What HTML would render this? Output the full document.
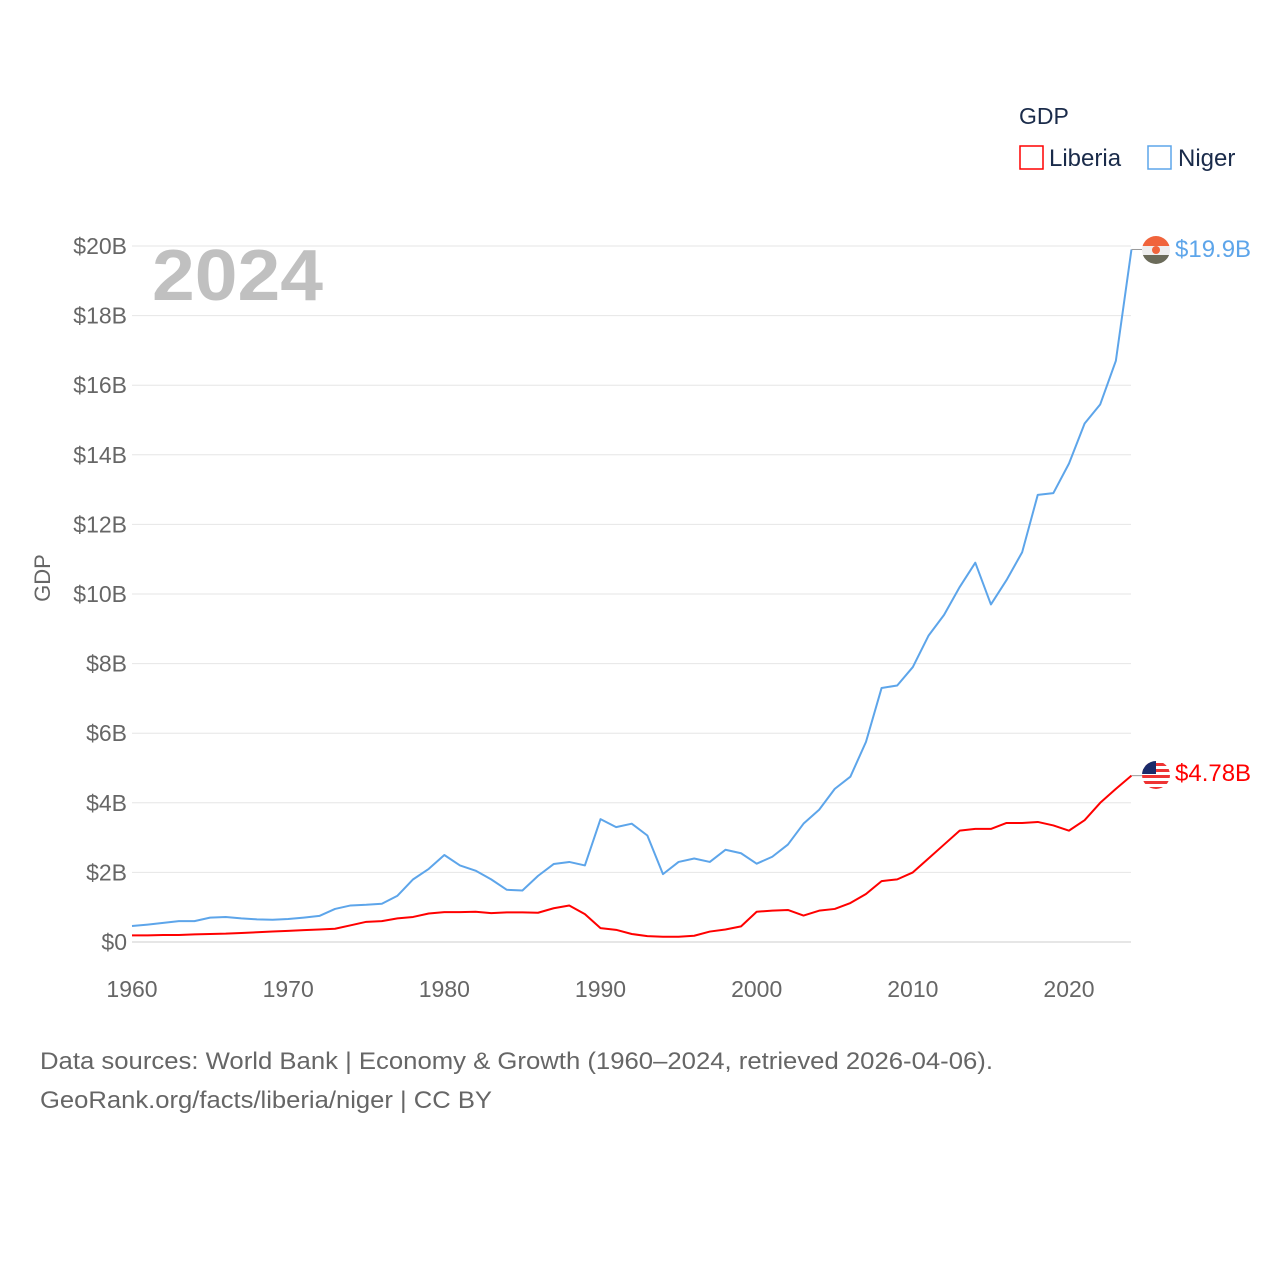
<!DOCTYPE html>
<html><head><meta charset="utf-8"><style>
body{margin:0;background:#fff;font-family:"Liberation Sans",sans-serif;}
svg text{font-family:"Liberation Sans",sans-serif;}
</style></head><body>
<svg id="chart" width="1280" height="1280" viewBox="0 0 1280 1280" xmlns="http://www.w3.org/2000/svg">
<rect width="1280" height="1280" fill="#fff"/>
<g id="grid"></g>
<g id="yt"></g>
<g id="xt"></g>
<text x="152" y="300" font-size="72" font-weight="bold" fill="#c0c0c0" textLength="171" lengthAdjust="spacingAndGlyphs">2024</text>
<text transform="translate(50,578) rotate(-90)" text-anchor="middle" font-size="22" fill="#666">GDP</text>
<g id="series"></g>
<text x="1019" y="124" font-size="23" fill="#1a2b4a">GDP</text>
<g><rect x="1020" y="146" width="23" height="23" fill="none" stroke="#f00" stroke-width="1.5"/><text x="1049" y="166" font-size="24" fill="#1a2b4a">Liberia</text></g>
<g><rect x="1148" y="146" width="23" height="23" fill="none" stroke="#5da5ea" stroke-width="1.5"/><text x="1178" y="166" font-size="24" fill="#1a2b4a">Niger</text></g>
<g><clipPath id="cn"><circle cx="1156" cy="250" r="14"/></clipPath><g clip-path="url(#cn)"><rect x="1142" y="236" width="28" height="10" fill="#f0643c"/><rect x="1142" y="246" width="28" height="9" fill="#eee"/><rect x="1142" y="255" width="28" height="10" fill="#6b6b5a"/><circle cx="1156" cy="250" r="4" fill="#f0643c"/></g></g>
<text x="1175" y="257" font-size="24" fill="#5da5ea">$19.9B</text>
<g><clipPath id="cl"><circle cx="1156" cy="775" r="14"/></clipPath><g clip-path="url(#cl)"><rect x="1142" y="761" width="28" height="28" fill="#fff"/><rect x="1142" y="763" width="28" height="3" fill="#e33"/><rect x="1142" y="769" width="28" height="3" fill="#e33"/><rect x="1142" y="775" width="28" height="3" fill="#e33"/><rect x="1142" y="781" width="28" height="3" fill="#e33"/><rect x="1142" y="787" width="28" height="3" fill="#e33"/><rect x="1142" y="761" width="14" height="13" fill="#1a2b6a"/></g></g>
<text x="1175" y="781" font-size="24" fill="#f00">$4.78B</text>
<text x="40" y="1069" font-size="24" fill="#666" textLength="953" lengthAdjust="spacingAndGlyphs">Data sources: World Bank | Economy &amp; Growth (1960–2024, retrieved 2026-04-06).</text>
<text x="40" y="1108" font-size="24" fill="#666" textLength="452" lengthAdjust="spacingAndGlyphs">GeoRank.org/facts/liberia/niger | CC BY</text>
</svg>
<script>
const years=[];for(let y=1960;y<=2024;y++)years.push(y);
const niger=[0.46,0.5,0.55,0.6,0.6,0.7,0.72,0.68,0.65,0.64,0.66,0.7,0.75,0.95,1.05,1.07,1.1,1.33,1.8,2.1,2.5,2.2,2.05,1.8,1.5,1.48,1.9,2.24,2.3,2.2,3.53,3.3,3.4,3.06,1.95,2.3,2.4,2.3,2.65,2.55,2.25,2.45,2.8,3.4,3.8,4.4,4.75,5.75,7.3,7.37,7.9,8.8,9.4,10.2,10.9,9.7,10.4,11.2,12.85,12.9,13.75,14.9,15.45,16.7,19.9];
const liberia=[0.19,0.19,0.2,0.2,0.22,0.23,0.24,0.26,0.28,0.3,0.32,0.34,0.36,0.38,0.48,0.58,0.6,0.68,0.72,0.82,0.86,0.86,0.87,0.83,0.85,0.85,0.84,0.97,1.05,0.8,0.4,0.35,0.23,0.17,0.15,0.15,0.18,0.3,0.36,0.45,0.87,0.9,0.92,0.76,0.9,0.95,1.12,1.38,1.75,1.8,2.0,2.4,2.8,3.2,3.25,3.25,3.42,3.42,3.45,3.35,3.2,3.5,4.0,4.4,4.78];
const yTicks=[0,2,4,6,8,10,12,14,16,18,20];
const yLabels=["$0","$2B","$4B","$6B","$8B","$10B","$12B","$14B","$16B","$18B","$20B"];
const xTicks=[1960,1970,1980,1990,2000,2010,2020];
const NS="http://www.w3.org/2000/svg";
const X=y=>132+(y-1960)*(1069-132)/60;
const Y=v=>942-v*(942-246)/20;
function mk(t,a,p){const e=document.createElementNS(NS,t);for(const k in a)e.setAttribute(k,a[k]);p.appendChild(e);return e;}
const grid=document.getElementById('grid'),yt=document.getElementById('yt'),xt=document.getElementById('xt'),ser=document.getElementById('series');
yTicks.forEach((v,i)=>{
 const l=mk('line',{x1:132,x2:1131,y1:Y(v),y2:Y(v),stroke:v===0?'#ccc':'#e6e6e6','stroke-width':1},grid);
 
 
 const t=mk('text',{x:127,y:Y(v)+8,'text-anchor':'end','font-size':23,fill:'#666'},yt);
 t.textContent=yLabels[i];
 
 
});
xTicks.forEach(v=>{
 const t=mk('text',{x:X(v),y:997,'text-anchor':'middle','font-size':23,fill:'#666'},xt);
 t.textContent=v;
 
 
});
function line(d,c,name){
 const p=mk('polyline',{points:d.map((v,i)=>X(years[i])+','+Y(v)).join(' '),fill:'none',stroke:c,'stroke-width':2,'stroke-linejoin':'round'},ser);
 
 
 const last=d[d.length-1];
 mk('line',{x1:X(2024),x2:1142,y1:Y(last),y2:Y(last),stroke:'#999','stroke-width':1},ser);
}
line(niger,'#5da5ea','niger-line');
line(liberia,'#f00','liberia-line');
</script>
</body></html>
